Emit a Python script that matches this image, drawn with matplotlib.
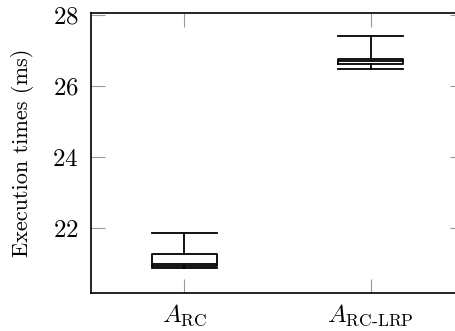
import matplotlib
matplotlib.use("Agg")
import matplotlib.pyplot as plt

plt.rcParams['font.family'] = 'cmr10'
plt.rcParams['mathtext.fontset'] = 'cm'
plt.rcParams['axes.formatter.use_mathtext'] = True

# box statistics (ms)
labels = [r'$A_{\mathrm{RC}}$', r'$A_{\mathrm{RC\text{-}LRP}}$']
whislo = [20.87, 26.49]
q1 = [20.93, 26.61]
med = [20.99, 26.70]
q3 = [21.26, 26.77]
whishi = [21.85, 27.42]

stats = []
for i in range(len(labels)):
    stats.append(dict(label=labels[i], whislo=whislo[i], q1=q1[i], med=med[i],
                      q3=q3[i], whishi=whishi[i], fliers=[]))

fig = plt.figure(figsize=(4.55, 3.31), dpi=100)
ax = fig.add_axes([91/455, 38/331, 373/455, 280.5/331])

lw = 1.3
ax.bxp(stats, positions=[1, 2], widths=0.35, showfliers=False,
       boxprops=dict(color='black', linewidth=lw),
       medianprops=dict(color='black', linewidth=lw),
       whiskerprops=dict(color='black', linewidth=lw),
       capprops=dict(color='black', linewidth=lw),
       capwidths=0.35)

ax.set_xlim(0.5, 2.5)
ax.set_ylim(20.169, 28.07)
ax.set_yticks([22, 24, 26, 28])
ax.set_xticks([1, 2])
ax.set_xticklabels(labels)

ax.tick_params(direction='in', length=10, width=0.8, color='#999999',
               labelsize=18, top=True, right=True)
ax.tick_params(axis='y', pad=9)
ax.tick_params(axis='x', pad=7)
for s in ax.spines.values():
    s.set_linewidth(1.2)

ax.set_ylabel('Execution times (ms)', fontsize=16, labelpad=13)

fig.savefig('out.png', dpi=100)
